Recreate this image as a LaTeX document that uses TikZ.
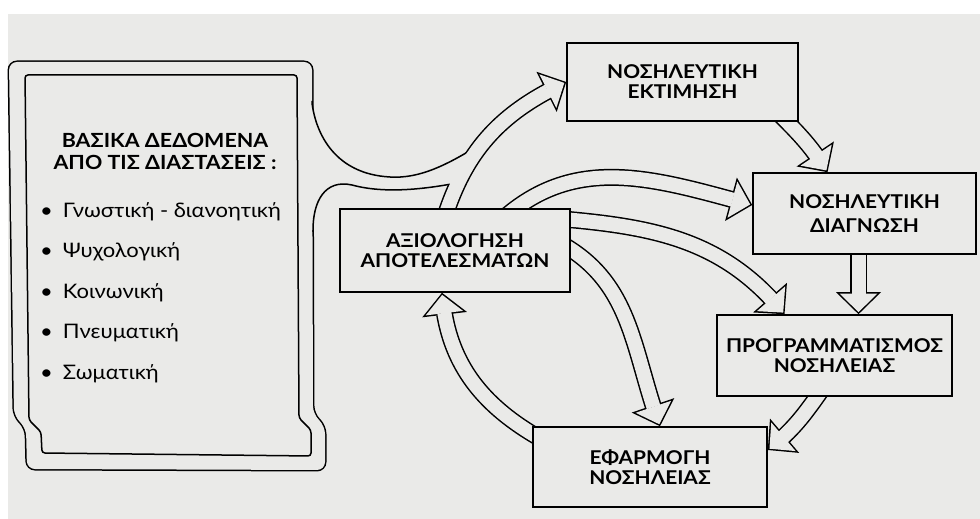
\documentclass[tikz,border=0pt]{standalone}
\usepackage{fontspec}
\setmainfont{Lato}[FakeStretch=1.1]
\usepackage{xcolor}
\definecolor{paper}{RGB}{234,234,232}
\usepackage{tikz}
\usetikzlibrary{arrows.meta,bending,positioning,backgrounds}

\tikzset{
	stage/.style = {rectangle, draw, line width=1.6pt, fill=paper, align=center, inner sep=2pt, font=\bfseries\fontsize{19}{20}\selectfont},
	heading/.style = {align=center, font=\bfseries\fontsize{19.5}{22}\selectfont},
	listitem/.style = {anchor=west, inner sep=0pt, text height=14pt, text depth=5pt, font=\fontsize{20}{24}\selectfont},
	flowout/.style = {draw=black, line width=17pt, -{Triangle[length=22pt, width=45pt, line width=0pt]}},
	flowin/.style = {draw=paper, line width=14pt, shorten >=2.1pt, -{Triangle[length=18.4pt, width=37.6pt, line width=0pt]}}
}

\begin{document}
\begin{tikzpicture}[x=1pt, y=1pt]
\useasboundingbox (0,0) rectangle (980,519);

\node[stage, minimum width=230pt, minimum height=83pt] (eval) at (455,268.5) {ΑΞΙΟΛΟΓΗΣΗ\\ΑΠΟΤΕΛΕΣΜΑΤΩΝ};
\node[stage, minimum width=231pt, minimum height=78pt] (assess) at (682.5,437) {ΝΟΣΗΛΕΥΤΙΚΗ\\ΕΚΤΙΜΗΣΗ};
\node[stage, minimum width=223pt, minimum height=81pt] (diag) at (864.5,305.5) {ΝΟΣΗΛΕΥΤΙΚΗ\\[4pt]ΔΙΑΓΝΩΣΗ};
\node[stage, minimum width=235pt, minimum height=81pt] (plan) at (834.5,163.5) {ΠΡΟΓΡΑΜΜΑΤΙΣΜΟΣ\\ΝΟΣΗΛΕΙΑΣ};
\node[stage, minimum width=234pt, minimum height=80pt] (impl) at (650,52) {ΕΦΑΡΜΟΓΗ\\ΝΟΣΗΛΕΙΑΣ};

\node[heading] (title) at (165,368) {ΒΑΣΙΚΑ ΔΕΔΟΜΕΝΑ\\ΑΠΟ ΤΙΣ ΔΙΑΣΤΑΣΕΙΣ :};
\node[listitem] (item1) at (40,306) {\textbullet\hspace{10pt}Γνωστική - διανοητική};
\node[listitem, below=21pt of item1.south west, anchor=north west] (item2) {\textbullet\hspace{10pt}Ψυχολογική};
\node[listitem, below=21pt of item2.south west, anchor=north west] (item3) {\textbullet\hspace{10pt}Κοινωνική};
\node[listitem, below=21pt of item3.south west, anchor=north west] (item4) {\textbullet\hspace{10pt}Πνευματική};
\node[listitem, below=21pt of item4.south west, anchor=north west] (item5) {\textbullet\hspace{10pt}Σωματική};

\begin{pgfonlayer}{background}
\fill[paper] (8,0) rectangle (980,505);

% scroll frame flowing into the arrow towards the assessment
\draw[line width=3pt, rounded corners=8pt] (9,457) -- (312,457) -- (313,105) -- (325,93) -- (325,49) -- (27,50) -- (26,91) -- (14,103) -- cycle;
\draw[flowout] ([xshift=-10pt,yshift=-8pt]eval.north) to[out=72,in=205] (assess.west);
\fill[paper, rounded corners=8pt] (9,457) -- (312,457) -- (313,105) -- (325,93) -- (325,49) -- (27,50) -- (26,91) -- (14,103) -- cycle;
\fill[paper] (305,416) -- (312,416) .. controls (316,385) and (335,345) .. (390,342) .. controls (420,340) and (448,355) .. (476,372) -- (466,345) -- (457,336) .. controls (425,330) and (385,325) .. (352,334) .. controls (325,340) and (313,318) .. (313,289) -- (305,289) -- cycle;
\draw[line width=1.5pt] (312,418) -- (312,416) .. controls (316,385) and (335,345) .. (390,342) .. controls (420,340) and (448,355) .. (476,372);
\draw[line width=1.5pt] (313,287) -- (313,289) .. controls (313,318) and (325,340) .. (352,334) .. controls (385,325) and (425,330) .. (457,336);
\draw[flowin] ([xshift=-10pt,yshift=-8pt]eval.north) to[out=72,in=205] (assess.west);
\draw[line width=1.5pt, rounded corners=3pt] (25,444) -- (297,444) -- (299,101) -- (311,89) -- (311,63) -- (42,66) -- (41,87) -- (29,99) -- cycle;

% cycle of the nursing process
\draw[flowout] ([xshift=98.5pt,yshift=6pt]assess.south) to[out=-45,in=122] ([xshift=-37pt]diag.north);
\draw[flowin] ([xshift=98.5pt,yshift=6pt]assess.south) to[out=-45,in=122] ([xshift=-37pt]diag.north);
\draw[flowout] ([xshift=-6pt,yshift=8pt]diag.south) -- ([xshift=24pt]plan.north);
\draw[flowin] ([xshift=-6pt,yshift=8pt]diag.south) -- ([xshift=24pt]plan.north);
\draw[flowout] ([xshift=-13pt,yshift=6.5pt]plan.south) to[out=235,in=38] ([yshift=17pt]impl.east);
\draw[flowin] ([xshift=-13pt,yshift=6.5pt]plan.south) to[out=235,in=38] ([yshift=17pt]impl.east);
\draw[flowout] ([xshift=7pt,yshift=29pt]impl.west) to[out=150,in=-86] ([xshift=-13pt]eval.south);
\draw[flowin] ([xshift=7pt,yshift=29pt]impl.west) to[out=150,in=-86] ([xshift=-13pt]eval.south);

% feedback from the evaluation
\draw[flowout] ([xshift=52pt,yshift=-7pt]eval.north) to[out=40,in=165] ([yshift=8.5pt]diag.west);
\draw[flowin] ([xshift=52pt,yshift=-7pt]eval.north) to[out=40,in=165] ([yshift=8.5pt]diag.west);
\draw[flowout] ([xshift=-8pt,yshift=31.5pt]eval.east) to[out=-5,in=129] ([xshift=-50pt]plan.north);
\draw[flowin] ([xshift=-8pt,yshift=31.5pt]eval.east) to[out=-5,in=129] ([xshift=-50pt]plan.north);
\draw[flowout] ([xshift=-8pt,yshift=6pt]eval.east) to[out=-30,in=110] ([xshift=10pt]impl.north);
\draw[flowin] ([xshift=-8pt,yshift=6pt]eval.east) to[out=-30,in=110] ([xshift=10pt]impl.north);
\end{pgfonlayer}

\end{tikzpicture}
\end{document}
